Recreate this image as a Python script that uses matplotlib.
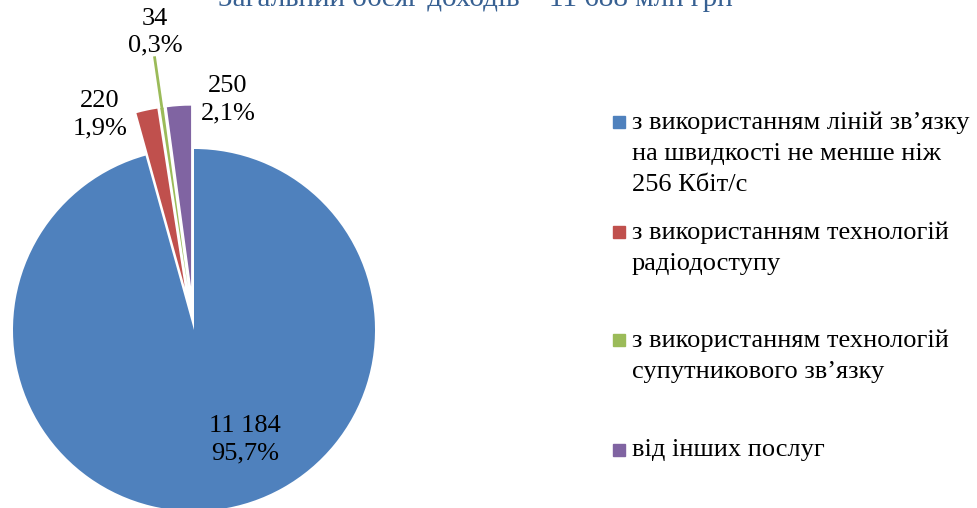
import matplotlib
matplotlib.use('Agg')
import matplotlib.pyplot as plt
import matplotlib.patches as patches
import numpy as np

# Data
categories = [
    'з використанням ліній зв’язку\nна швидкості не менше ніж\n256 Кбіт/с',
    'з використанням технологій\nрадіодоступу',
    'з використанням технологій\nсупутникового зв’язку',
    'від інших послуг',
]
values = [11184, 220, 34, 250]
colors = ['#4F81BD', '#C0504D', '#9BBB59', '#8064A2']
title = 'Загальний обсяг доходів – 11 688 млн грн'

plt.rcParams['font.family'] = ['Liberation Serif', 'DejaVu Serif']

W, H = 977, 508
fig = plt.figure(figsize=(W / 100, H / 100), dpi=100)

# pie centre and radius in pixels
cx, cy, R = 194, 330, 181
ax = fig.add_axes([0, 0, 1, 1])

explode = [0, 0.24, 0.24, 0.24]
wedges, _ = ax.pie(values, colors=colors, startangle=90, counterclock=False,
                   explode=explode, radius=1.0, center=(0, 0), frame=True,
                   wedgeprops=dict(linewidth=0))
ax.set_xlim(-cx / R, (W - cx) / R)
ax.set_ylim(-(H - cy) / R, cy / R)
ax.set_aspect('equal')
ax.axis('off')

total = sum(values)


def fmt_val(v):
    return f'{v:,}'.replace(',', ' ')


def fmt_pct(v):
    return f'{v / total * 100:.1f}'.replace('.', ',') + '%'


# label positions (data coords) for each slice
label_pos = [(0.282, -0.608), (-0.519, 1.188), (-0.215, 1.646), (0.188, 1.271)]
for v, (lx, ly) in zip(values, label_pos):
    ax.text(lx, ly, fmt_val(v) + '\n' + fmt_pct(v), ha='center', va='center',
            fontsize=19, linespacing=1.3, color='black')

# leader line for the small green slice
cum = np.cumsum([0] + values[:-1])
mid = (cum[2] + values[2] / 2) / total
ang = np.deg2rad(90 - mid * 360)
r0, r1 = 1.24, 1.52
ax.plot([r0 * np.cos(ang), r1 * np.cos(ang)], [r0 * np.sin(ang), r1 * np.sin(ang)],
        color=colors[2], linewidth=2)

# title (cropped at the top edge, as in the source)
fig.text(475 / W, 1 - 6 / H, title, ha='center', va='baseline',
         fontsize=21, color='#376092')

# legend drawn by hand
legend_y = [122, 232, 340, 450]
for lab, col, y in zip(categories, colors, legend_y):
    fig.patches.append(patches.Rectangle((613 / W, 1 - (y + 6) / H), 12 / W, 12 / H,
                                         transform=fig.transFigure, color=col))
    fig.text(632 / W, 1 - (y - 11) / H, lab, ha='left', va='top',
             fontsize=19, linespacing=1.55, color='black')

fig.savefig('out.png', dpi=100)
